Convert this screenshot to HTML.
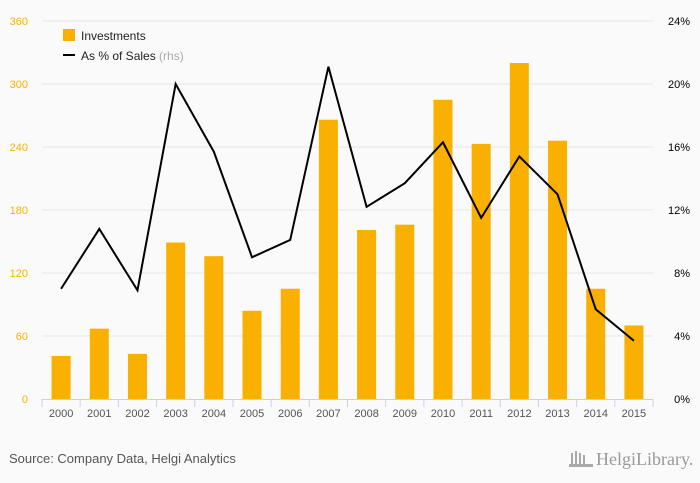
<!DOCTYPE html>
<html><head><meta charset="utf-8"><style>
body{margin:0;background:#fafafa;font-family:"Liberation Sans",sans-serif;}
svg{display:block}
</style></head><body>
<svg id="chart" width="700" height="483">
<rect x="0" y="0" width="700" height="483" fill="#fafafa"/>
<g id="grid"></g><g id="bars"></g><g id="line"></g><g id="axes"></g>
<g>
<rect x="63" y="29" width="12" height="12" fill="#f9b000"/>
<text x="81" y="40" font-size="12" fill="#222">Investments</text>
<line x1="63" y1="55" x2="75" y2="55" stroke="#000" stroke-width="2"/>
<text x="81" y="60" font-size="12" fill="#222">As % of Sales <tspan fill="#aaa">(rhs)</tspan></text>
</g>
<text x="9" y="463" font-size="13" fill="#555">Source: Company Data, Helgi Analytics</text>
<text x="596" y="465" font-size="18" fill="#999" font-family="Liberation Serif,serif">HelgiLibrary.</text>
<g fill="#aaa"><rect x="571" y="453" width="2" height="12"/><rect x="575" y="451" width="2" height="14"/><rect x="579" y="453" width="2" height="12"/><rect x="583" y="455" width="2" height="10"/><rect x="569" y="464" width="24" height="3"/></g>
</svg>
<script>
const years=["2000","2001","2002","2003","2004","2005","2006","2007","2008","2009","2010","2011","2012","2013","2014","2015"];
const investments=[41,67,43,149,136,84,105,266,161,166,285,243,320,246,105,70];
const pctSales=[7.0,10.8,6.9,20.0,15.7,9.0,10.1,21.1,12.2,13.7,16.3,11.5,15.4,13.0,5.7,3.7];
const leftTicks=[0,60,120,180,240,300,360];
const rightTicks=[0,4,8,12,16,20,24];
const NS="http://www.w3.org/2000/svg";
const x0=42,x1=653,yTop=21,yBot=399;
const step=(x1-x0)/years.length;
const xC=i=>x0+step*(i+0.5);
const yL=v=>yBot-(v/360)*(yBot-yTop);
const yR=v=>yBot-(v/24)*(yBot-yTop);
function mk(t,a,p){const e=document.createElementNS(NS,t);for(const k in a)e.setAttribute(k,a[k]);p.appendChild(e);return e;}
const grid=document.getElementById('grid'),bars=document.getElementById('bars'),line=document.getElementById('line'),axes=document.getElementById('axes');
leftTicks.forEach((v,i)=>{
 if(v>0){const g=mk('line',{x1:x0,x2:x1,y1:yL(v),y2:yL(v),stroke:'#e6e6e6'},grid);
 
 }
 const t=mk('text',{x:28,y:yL(v)+4,'text-anchor':'end','font-size':11,fill:'#f9b000'},axes);t.textContent=v;
 
 
});
rightTicks.forEach(v=>{
 const t=mk('text',{x:690,y:yR(v)+4,'text-anchor':'end','font-size':11,fill:'#000'},axes);t.textContent=v+'%';
 
 
});
const ax=mk('line',{x1:x0,x2:x1,y1:yBot+0.5,y2:yBot+0.5,stroke:'#c5d3ea'},axes);


for(let i=0;i<=years.length;i++){const tk=mk('line',{x1:x0+step*i,x2:x0+step*i,y1:yBot,y2:yBot+8,stroke:'#c5d3ea'},axes);
 
 }
years.forEach((y,i)=>{
 const t=mk('text',{x:xC(i),y:417,'text-anchor':'middle','font-size':11,fill:'#555'},axes);t.textContent=y;
 
 
 const b=mk('rect',{x:xC(i)-9.5,y:yL(investments[i]),width:19,height:yBot-yL(investments[i]),fill:'#f9b000'},bars);
 
 
});
const pl=mk('polyline',{points:pctSales.map((v,i)=>xC(i)+','+yR(v)).join(' '),fill:'none',stroke:'#000','stroke-width':2},line);


</script>
</body></html>
